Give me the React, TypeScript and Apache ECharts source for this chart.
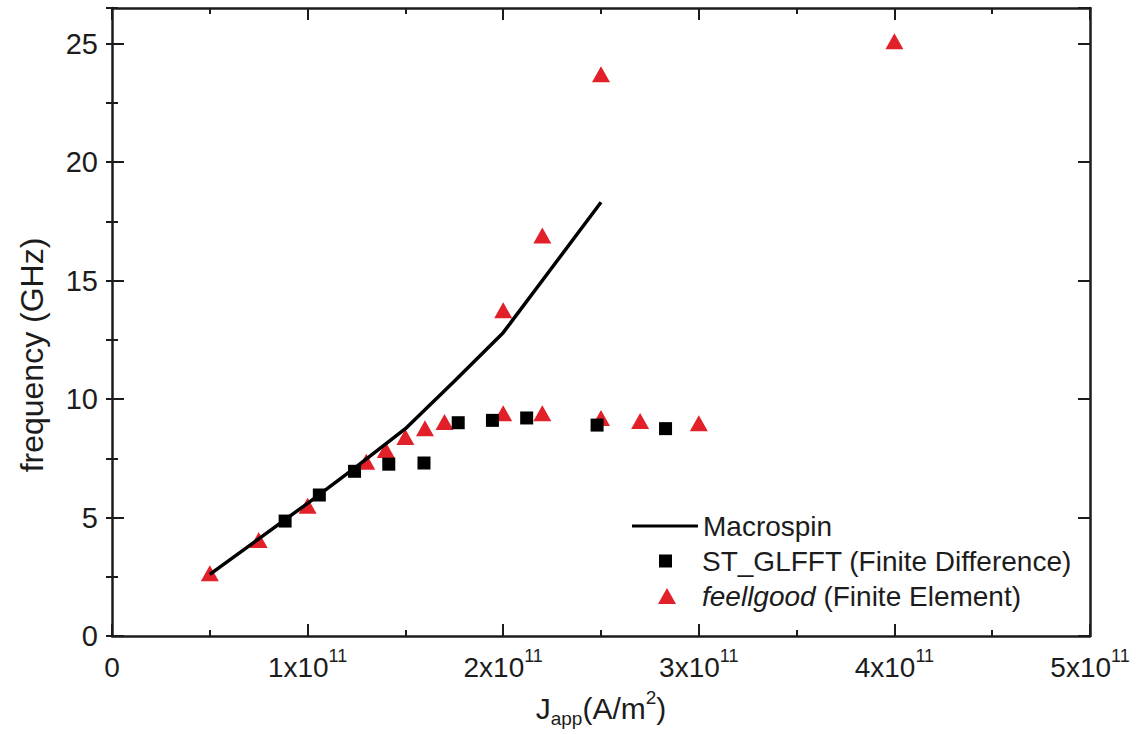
import React, { useEffect, useRef } from "react";
import * as echarts from "echarts";

// Current density in units of 1e11 A/m^2, frequency in GHz
const macroJ = [0.5, 0.75, 1.0, 1.25, 1.5, 1.75, 2.0, 2.25, 2.5];
const macroF = [2.6, 4.1, 5.6, 7.15, 8.75, 10.75, 12.8, 15.55, 18.3];

const stJ = [0.885, 1.06, 1.24, 1.415, 1.595, 1.77, 1.945, 2.12, 2.48, 2.83];
const stF = [4.85, 5.95, 6.95, 7.25, 7.3, 9.0, 9.1, 9.2, 8.9, 8.75];

const feJ = [0.5, 0.75, 1.0, 1.3, 1.4, 1.5, 1.6, 1.7, 2.0, 2.2, 2.5, 2.7, 3.0, 2.0, 2.2, 2.5, 4.0];
const feF = [2.65, 4.05, 5.5, 7.35, 7.85, 8.4, 8.77, 9.03, 9.4, 9.4, 9.2, 9.07, 8.98, 13.75, 16.9, 23.7, 25.1];

const xTickValues = [0, 1, 2, 3, 4, 5];
const yTickValues = [0, 5, 10, 15, 20, 25];

const seriesNames = [
  "Macrospin",
  "ST_GLFFT (Finite Difference)",
  "feellgood (Finite Element)",
];

const FONT = "'Liberation Sans', Arial, Helvetica, sans-serif";
const INK = "#1c1c1c";
const RED = "#e2202a";

function zip(a: number[], b: number[]) {
  return a.map((v, i) => [v, b[i]]);
}

export default function App() {
  const ref = useRef<HTMLDivElement>(null);

  useEffect(() => {
    if (!ref.current) return;
    const chart = echarts.init(ref.current, undefined, { renderer: "svg" });

    const axisLine = { show: true, onZero: false, lineStyle: { color: INK, width: 2.5 } };
    const majorTick = { show: true, inside: true, length: 12, lineStyle: { color: INK, width: 2 } };
    const minorTickY = { show: true, inside: true, length: 6, lineStyle: { color: INK, width: 2 } };

    const xBase = {
      type: "value",
      min: 0,
      max: 5,
      interval: 1,
      axisLine,
      axisTick: majorTick,
      minorTick: { show: true, splitNumber: 2, length: 6, lineStyle: { color: INK, width: 2 } },
      splitLine: { show: false },
      minorSplitLine: { show: false },
    };

    const yMajor = {
      type: "value",
      min: 0,
      max: 26.5,
      interval: 5,
      axisLine,
      axisTick: majorTick,
      splitLine: { show: false },
    };
    const yMinor = {
      type: "value",
      min: 0,
      max: 26.5,
      interval: 2.5,
      axisLine: { show: false },
      axisTick: minorTickY,
      axisLabel: { show: false },
      splitLine: { show: false },
    };

    const legendText = {
      fontFamily: FONT,
      fontSize: 28,
      color: INK,
      lineHeight: 30,
    };
    const legendBase = {
      orient: "horizontal",
      selectedMode: false,
      textStyle: {
        ...legendText,
        rich: {
          t: { ...legendText },
          i: { ...legendText, fontStyle: "italic" },
          sp: { width: 25, height: 10 },
          sp2: { width: 21, height: 10 },
        },
      },
    };

    const option: any = {
      animation: false,
      backgroundColor: "#ffffff",
      grid: { left: 112, top: 8, right: 49, bottom: 98, containLabel: false, outerBoundsMode: "none" },
      xAxis: [
        {
          ...xBase,
          position: "bottom",
          axisLabel: {
            show: true,
            margin: 11,
            formatter: (v: number) =>
              xTickValues.includes(v) ? (v === 0 ? "{a|0}" : `{a|${v}x10}{s|11}`) : "",
            rich: {
              a: { fontFamily: FONT, fontSize: 28, color: INK, lineHeight: 40 },
              s: { fontFamily: FONT, fontSize: 18, color: INK, lineHeight: 18, verticalAlign: "top" },
            },
          },
          name: "{j|J}{sub|app}{j|(A/m}{sup|2}{j|)}",
          nameLocation: "middle",
          nameGap: 52,
          nameTextStyle: {
            rich: {
              j: { fontFamily: FONT, fontSize: 30, color: INK, lineHeight: 40 },
              sub: { fontFamily: FONT, fontSize: 19, color: INK, lineHeight: 14, verticalAlign: "bottom" },
              sup: { fontFamily: FONT, fontSize: 19, color: INK, lineHeight: 20, verticalAlign: "top" },
            },
          },
        },
        {
          ...xBase,
          position: "top",
          axisLabel: { show: false },
        },
      ],
      yAxis: [
        {
          ...yMajor,
          position: "left",
          axisLabel: {
            show: true,
            margin: 14,
            showMaxLabel: false,
            fontFamily: FONT,
            fontSize: 29,
            color: INK,
            formatter: (v: number) => (yTickValues.includes(v) ? String(v) : ""),
          },
          name: "frequency (GHz)",
          nameLocation: "middle",
          nameGap: 64,
          nameTextStyle: { fontFamily: FONT, fontSize: 32, color: INK, padding: [0, 66, 0, 0] },
        },
        { ...yMinor, position: "left" },
        { ...yMajor, position: "right", axisLabel: { show: false } },
        { ...yMinor, position: "right" },
      ],
      legend: [
        {
          ...legendBase,
          left: 627,
          top: 506,
          itemWidth: 66,
          itemHeight: 14,
          data: [{ name: seriesNames[0], icon: "path://M0,0 L66,0 L66,3 L0,3 Z" }],
          formatter: (n: string) => `{t|${n}}`,
        },
        {
          ...legendBase,
          left: 654,
          top: 541,
          itemWidth: 13,
          itemHeight: 13,
          data: [{ name: seriesNames[1], icon: "rect" }],
          formatter: (n: string) => `{sp|}{t|${n}}`,
        },
        {
          ...legendBase,
          left: 653,
          top: 576,
          itemWidth: 18,
          itemHeight: 16,
          data: [{ name: seriesNames[2], icon: "triangle" }],
          formatter: () => "{sp2|}{i|feellgood}{t| (Finite Element)}",
        },
      ],
      series: [
        {
          name: seriesNames[2],
          type: "scatter",
          xAxisIndex: 0,
          yAxisIndex: 0,
          symbol: "triangle",
          symbolSize: [18, 16],
          itemStyle: { color: RED, opacity: 1 },
          data: zip(feJ, feF),
          z: 2,
        },
        {
          name: seriesNames[0],
          type: "line",
          xAxisIndex: 0,
          yAxisIndex: 0,
          symbol: "none",
          smooth: false,
          lineStyle: { color: "#000000", width: 3.5 },
          itemStyle: { color: "#000000" },
          data: zip(macroJ, macroF),
          z: 3,
        },
        {
          name: seriesNames[1],
          type: "scatter",
          xAxisIndex: 0,
          yAxisIndex: 0,
          symbol: "rect",
          symbolSize: 13,
          itemStyle: { color: "#000000", opacity: 1 },
          data: zip(stJ, stF),
          z: 4,
        },
      ],
    };

    chart.setOption(option);
    return () => chart.dispose();
  }, []);

  return (
    <div
      ref={ref}
      style={{ position: "absolute", left: 0, top: 0, width: 1139, height: 734, background: "#fff" }}
    />
  );
}
